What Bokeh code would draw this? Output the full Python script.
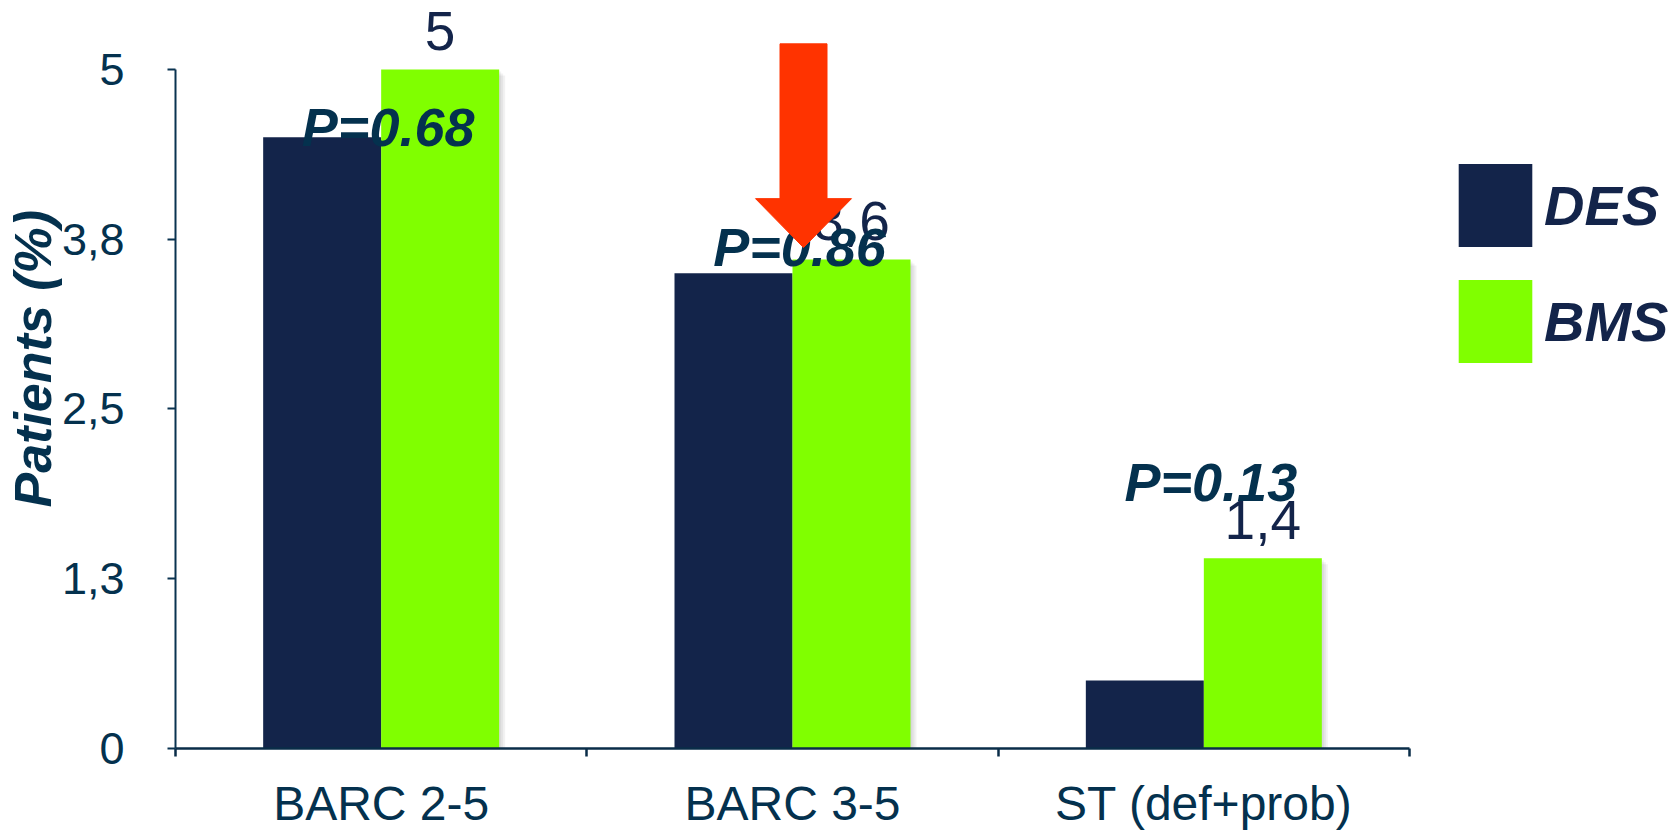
from bokeh.plotting import figure
from bokeh.models import Range1d, FixedTicker, Legend, LegendItem, Title
from bokeh.embed import file_html
from bokeh.resources import INLINE
from bokeh.core.properties import value

# ---- data -------------------------------------------------------------
categories = ["BARC 2-5", "BARC 3-5", "ST (def+prob)"]
series = ["DES", "BMS"]
des = [4.5, 3.5, 0.5]
bms = [5.0, 3.6, 1.4]
p_values = ["P=0.68", "P=0.86", "P=0.13"]
y_ticks = [0, 1.25, 2.5, 3.75, 5]
y_tick_labels = ["0", "1,3", "2,5", "3,8", "5"]

# ---- layout / style ---------------------------------------------------
W, H = 1671, 832
LEFT, BOTTOM = 175, 83
FRAME_W = W - LEFT          # frame runs to the right edge; legend lives in it
FRAME_H = H - BOTTOM
CAT_PX = 1234 / 3           # width of one category slot
PX_PER_UNIT = 136.0
N = len(categories)
X_END = FRAME_W / CAT_PX
Y_END = FRAME_H / PX_PER_UNIT

NAVY = "#13244a"
GREEN = "#80ff00"
TEAL = "#04314e"
ARROW = "#ff3300"
FONT = "Liberation Sans"
MID = 0.35  # distance from text middle to baseline, in em


def dx(px):
    return px / CAT_PX


def dy(px):
    return px / PX_PER_UNIT


def fmt(v):
    return f"{v:g}".replace(".", ",")


BAR_W = dx(118)
centers = [i + 0.5 for i in range(N)]
des_x = [c - BAR_W / 2 for c in centers]
bms_x = [c + BAR_W / 2 for c in centers]

p = figure(width=W, height=H, x_range=Range1d(0, X_END), y_range=Range1d(0, Y_END),
           min_border_left=LEFT, min_border_right=0,
           min_border_top=0, min_border_bottom=BOTTOM,
           output_backend="svg", toolbar_location=None, title=None)
p.outline_line_color = None
p.xgrid.visible = False
p.ygrid.visible = False
p.background_fill_color = "white"
p.border_fill_color = "white"

# soft drop shadow under the bars
for k in (2, 4, 6):
    for xs, ys in ((des_x, des), (bms_x, bms)):
        p.vbar(x=[x + dx(k) for x in xs], top=[v - dy(k) for v in ys], bottom=0,
               width=BAR_W, fill_color="#000000", fill_alpha=0.05, line_color=None)

r_des = p.vbar(x=des_x, top=des, bottom=0, width=BAR_W, fill_color=NAVY, line_color=None)
r_bms = p.vbar(x=bms_x, top=bms, bottom=0, width=BAR_W, fill_color=GREEN, line_color=None)

# value labels above the BMS bars (baseline ~19px above each bar)
VAL_FS = 55
p.text(x=bms_x, y=[v + dy(19 + MID * VAL_FS) for v in bms], text=[fmt(v) for v in bms],
       text_font=value(FONT), text_font_size=f"{VAL_FS}px", text_color=NAVY,
       text_align="center", text_baseline="middle")

# p-value annotations (baseline heights in data units)
P_FS = 54
P_BASELINE = [4.434, 3.551, 1.824]
p.text(x=[c + dx(7) for c in centers], y=[b + dy(MID * P_FS) for b in P_BASELINE],
       text=p_values, text_font=value(FONT), text_font_style="bold italic",
       text_font_size=f"{P_FS}px", text_color=TEAL,
       text_align="center", text_baseline="middle")

# red arrow pointing at the BARC 3-5 bars
ax = centers[1] + dx(11)
tip = bms[1] + dy(12)
head = tip + dy(49)
top = tip + dy(204)
sw, hw = dx(23.5), dx(48)
p.patch(x=[ax - sw, ax + sw, ax + sw, ax + hw, ax, ax - hw, ax - sw],
        y=[top, top, head, head, tip, head, head],
        fill_color=ARROW, line_color=ARROW, line_width=1)

# axes
xa = p.xaxis[0]
xa.bounds = (0, N)
xa.ticker = FixedTicker(ticks=centers, minor_ticks=list(range(N + 1)))
xa.major_label_overrides = {c: name for c, name in zip(centers, categories)}
xa.major_tick_line_color = None
xa.major_tick_out = 0
xa.major_tick_in = 0
xa.minor_tick_out = 8
xa.minor_tick_in = 0
xa.minor_tick_line_color = "#0a2d48"
xa.minor_tick_line_width = 2.5
xa.axis_line_color = "#0a2d48"
xa.axis_line_width = 2.5
xa.major_label_standoff = 20
xa.major_label_text_font = FONT
xa.major_label_text_font_size = "48px"
xa.major_label_text_color = TEAL

ya = p.yaxis[0]
ya.ticker = FixedTicker(ticks=y_ticks)
ya.bounds = (0, 5)
ya.major_label_overrides = {t: s for t, s in zip(y_ticks, y_tick_labels)}
ya.major_tick_out = 8
ya.major_tick_in = 0
ya.minor_tick_line_color = None
ya.major_tick_line_color = "#0a3350"
ya.major_tick_line_width = 2
ya.axis_line_color = "#0a3350"
ya.axis_line_width = 2
ya.major_label_standoff = 43
ya.major_label_text_font = FONT
ya.major_label_text_font_size = "45px"
ya.major_label_text_color = TEAL

# y-axis title in its own side panel, next to the tick labels
p.add_layout(Title(text="Patients (%)", align="left", offset=241, standoff=-6,
                   text_font=FONT, text_font_style="bold italic",
                   text_font_size="52px", text_color=TEAL), "left")

legend = Legend(items=[LegendItem(label=series[0], renderers=[r_des]),
                       LegendItem(label=series[1], renderers=[r_bms])],
                location=(1274, 375), glyph_width=92, glyph_height=104, spacing=12,
                label_standoff=3, padding=0, margin=0,
                border_line_color=None, background_fill_alpha=0,
                label_text_font=FONT, label_text_font_size="56px",
                label_text_font_style="bold italic", label_text_color=NAVY)
p.add_layout(legend)

open("out.html", "w").write(file_html(p, INLINE))
